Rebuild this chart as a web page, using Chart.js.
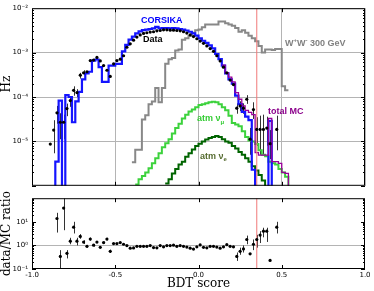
<!DOCTYPE html>
<html>
<head>
<meta charset="utf-8">
<script src="https://cdn.jsdelivr.net/npm/chart.js@4.4.0/dist/chart.umd.min.js"></script>
<style>
    html, body { margin: 0; padding: 0; background: #fff; }
    #wrap { position: relative; width: 374px; height: 291px; }
    #top { position: absolute; left: 0; top: 0; }
    #bottom { position: absolute; left: 0; top: 190px; }
</style>
</head>
<body>
<div id="wrap">
    <canvas id="top" width="374" height="194"></canvas>
    <canvas id="bottom" width="374" height="101"></canvas>
</div>
<script>
    'use strict';

    // binning of all histograms (BDT score)
    var binWidth = 0.02;
    var cutValue = 0.35;
    var hzTicks = [1e-5, 1e-4, 1e-3, 1e-2];
    var ratioTicks = [0.1, 1, 10];

    // histograms: value of each bin, first bin starts at *Start
    var corsikaStart = -0.88;
    var corsika = [0, 3.5e-6, 8.3e-5, 0, 1.1e-4, 1.0e-4, 2.7e-5, 8.0e-5, 1.3e-4, 2.5e-4,
        3.4e-4, 3.7e-4, 6.6e-4, 7.0e-4, 4.7e-4, 2.2e-4, 2.2e-4, 5.1e-4, 5.1e-4, 5.6e-4,
        5.6e-4, 1.07e-3, 1.5e-3, 1.95e-3, 2.3e-3, 2.7e-3, 3.0e-3, 3.2e-3, 3.3e-3, 3.4e-3,
        3.5e-3, 3.8e-3, 3.5e-3, 3.55e-3, 3.55e-3, 3.5e-3, 3.55e-3, 3.5e-3, 3.4e-3, 3.3e-3,
        3.15e-3, 2.95e-3, 2.7e-3, 2.4e-3, 2.1e-3, 1.85e-3, 1.65e-3, 1.45e-3, 1.25e-3, 9.3e-4,
        7.1e-4, 5.1e-4, 3.4e-4, 2.5e-4, 2.0e-4, 1.07e-4, 6.9e-5, 4.6e-5, 3.6e-5, 3.0e-5,
        2.3e-6, 0, 0, 0, 0, 2.9e-5, 0];

    var wwStart = -0.40;
    var ww = [3.4e-6, 6.5e-6, 6.5e-6, 3.1e-5, 3.9e-5, 6.9e-5, 7.9e-5, 1.6e-4, 7.6e-5, 1.6e-4,
        5.6e-4, 7.1e-4, 7.6e-4, 1.12e-3, 1.17e-3, 1.95e-3, 2.1e-3, 2.4e-3, 2.8e-3, 3.2e-3,
        3.3e-3, 3.7e-3, 4.3e-3, 4.3e-3, 4.3e-3, 4.3e-3, 5.0e-3, 5.0e-3, 4.6e-3, 4.3e-3,
        4.0e-3, 3.6e-3, 2.95e-3, 3.2e-3, 2.8e-3, 2.4e-3, 2.1e-3, 1.8e-3, 1.4e-3, 1.0e-3,
        1.17e-3, 1.17e-3, 1.15e-3, 1.2e-3, 1.2e-3, 1.74e-4, 1.41e-4];

    var numuStart = -0.38;
    var numu = [1.07e-6, 1.41e-6, 1.66e-6, 2.0e-6, 2.5e-6, 3.2e-6, 4.2e-6, 5.4e-6, 7.4e-6, 9.1e-6,
        1.12e-5, 1.51e-5, 2.0e-5, 2.5e-5, 3.3e-5, 4.0e-5, 4.7e-5, 5.2e-5, 5.9e-5, 6.6e-5,
        6.9e-5, 7.2e-5, 7.6e-5, 7.8e-5, 7.6e-5, 6.9e-5, 5.9e-5, 5.0e-5, 3.8e-5, 2.6e-5,
        2.4e-5, 2.2e-5, 1.7e-5, 1.26e-5, 1.05e-5, 1.0e-5, 8.7e-6, 6.3e-6, 5.0e-6, 4.6e-6,
        3.5e-6, 3.2e-6, 3.0e-6, 2.4e-6, 2.0e-6, 1.6e-6, 0];

    var nueStart = -0.20;
    var nue = [1.12e-6, 1.41e-6, 1.9e-6, 2.4e-6, 3.0e-6, 3.5e-6, 4.5e-6, 5.4e-6, 6.6e-6, 7.9e-6,
        8.9e-6, 1.0e-5, 1.1e-5, 1.2e-5, 1.26e-5, 1.32e-5, 1.26e-5, 1.12e-5, 1.0e-5, 9.3e-6,
        7.9e-6, 6.9e-6, 5.8e-6, 5.0e-6, 4.2e-6, 3.5e-6, 2.75e-6, 2.2e-6, 1.74e-6, 1.32e-6, 0];

    var totalStart = 0.14;
    var totalMC = [5.2e-4, 3.5e-4, 2.8e-4, 2.2e-4, 1.26e-4, 8.9e-5, 6.3e-5, 5.0e-5, 4.5e-5, 4.0e-5,
        5.6e-6, 4.9e-6, 4.9e-6, 4.9e-6, 3.3e-5, 3.5e-6, 3.5e-6, 3.2e-6, 2.0e-6, 1.9e-6, 0];

    // data points at bin centres
    var dataStart = -0.89;
    var dataRate = [8.7e-6, 1.8e-5, 4.4e-5, 2.7e-5, 2.7e-5, 5.5e-5, 8.3e-5, 1.41e-4, 1.26e-4, 3.1e-4,
        3.5e-4, 3.7e-4, 6.6e-4, 6.8e-4, 7.8e-4, 6.5e-4, 5.1e-4, 4.0e-4, 2.9e-4, 5.6e-4,
        6.6e-4, 7.1e-4, 8.5e-4, 1.32e-3, 1.58e-3, 1.9e-3, 2.24e-3, 2.5e-3, 2.7e-3, 2.8e-3,
        2.9e-3, 2.95e-3, 3.1e-3, 3.15e-3, 3.25e-3, 3.25e-3, 3.2e-3, 3.2e-3, 3.15e-3, 3.1e-3,
        2.95e-3, 2.75e-3, 2.5e-3, 2.3e-3, 2.05e-3, 1.82e-3, 1.62e-3, 1.41e-3, 1.23e-3, 1.07e-3,
        8.5e-4, 6.5e-4, 4.7e-4, 3.5e-4, 2.4e-4, 1.9e-4, 5.6e-5, 6.3e-5, 5.6e-5, 8.9e-5,
        1.12e-5, 5.2e-5, 1.86e-5, 1.86e-5, 1.86e-5, 2.0e-5, 8.9e-6, null, 1.86e-5];
    // [bin centre, low, high]
    var dataErrors = [[-0.87, 5.4e-6, 3.0e-5], [-0.85, 2.5e-5, 6.3e-5], [-0.83, 1.12e-5, 4.3e-5],
        [-0.81, 1.12e-5, 4.0e-5], [-0.79, 3.7e-5, 7.1e-5], [-0.77, 6.0e-5, 1.05e-4],
        [-0.75, 1.07e-4, 1.74e-4], [-0.73, 1.0e-4, 1.5e-4], [-0.71, 2.6e-4, 3.5e-4],
        [-0.69, 3.1e-4, 4.0e-4], [0.23, 4.2e-5, 7.2e-5], [0.25, 4.8e-5, 8.0e-5],
        [0.27, 4.2e-5, 7.2e-5], [0.29, 7.0e-5, 1.1e-4], [0.31, 5e-6, 2e-5],
        [0.33, 3.2e-5, 7.6e-5], [0.35, 7.9e-6, 3.5e-5], [0.37, 5.0e-6, 3.8e-5],
        [0.39, 5.0e-6, 4.0e-5], [0.41, 8e-6, 3.6e-5], [0.43, 4e-6, 1.8e-5], [0.47, 6.3e-6, 3.8e-5]];

    var ratioStart = -0.85;
    var ratio = [13.8, 0.34, 38, 0.46, 1.51, 5.9, 1.51, 2.4, 1.38, 0.91,
        1.86, 1.02, 1.38, 0.83, 1.32, 1.86, 0.56, 1.2, 1.2, 1.32,
        1.12, 0.98, 0.76, 0.78, 0.91, 0.91, 0.91, 0.91, 0.98, 0.81,
        0.79, 0.98, 0.87, 0.98, 0.98, 1.02, 0.91, 0.98, 0.91, 0.85,
        0.76, 0.7, 0.87, 1.05, 0.83, 0.79, 0.91, 0.91, 0.85, 0.76,
        0.87, 1.07, 0.91, 0.87, 0.34, 0.56, 0.71, 1.78, 0.44, 1.12,
        1.78, 2.75, 4.0, 4.0, 0.23, null, 5.9];
    var ratioErrors = [[-0.85, 3.5, 24], [-0.83, 0.063, 0.63], [-0.81, 4.4, 100], [-0.79, 0.28, 0.63],
        [-0.77, 1.12, 2.1], [-0.75, 3.2, 10], [-0.73, 1.0, 2.1], [-0.71, 1.9, 3.0],
        [-0.69, 1.15, 1.66], [-0.67, 0.8, 1.05], [-0.65, 1.6, 2.15], [-0.63, 0.9, 1.15],
        [-0.61, 1.25, 1.5], [-0.57, 1.2, 1.45], [-0.55, 1.65, 2.1], [-0.53, 0.48, 0.66],
        [0.23, 0.22, 0.5], [0.25, 0.4, 0.8], [0.27, 0.5, 1.0], [0.29, 1.12, 2.6],
        [0.33, 0.63, 1.78], [0.35, 0.8, 2.8], [0.37, 1.26, 4.0], [0.39, 2.2, 5.6],
        [0.41, 1.4, 5.6], [0.47, 3.2, 10]];

    // empty bins are pushed below the log axis so the step falls out of the frame
    function histPoints(start, values) {
        var pts = values.map(function (v, i) {
            return { x: start + i * binWidth, y: v > 0 ? v : 1e-9 };
        });
        pts.push({ x: start + values.length * binWidth, y: pts[pts.length - 1].y });
        return pts;
    }

    function centrePoints(start, values) {
        return values.map(function (v, i) {
            return { x: start + i * binWidth, y: v };
        });
    }

    function histSet(label, start, values, color, width) {
        return {
            label: label,
            data: histPoints(start, values),
            borderColor: color,
            borderWidth: width,
            stepped: 'before',
            pointRadius: 0,
            fill: false
        };
    }

    var supChars = { '-': '\u207B', '0': '\u2070', '1': '\u00B9', '2': '\u00B2', '3': '\u00B3',
        '4': '\u2074', '5': '\u2075', '6': '\u2076', '7': '\u2077', '8': '\u2078', '9': '\u2079' };

    function powerLabel(value) {
        var exp = String(Math.round(Math.log10(value)));
        return '10' + exp.split('').map(function (c) { return supChars[c]; }).join('');
    }

    var tickFont = { family: 'DejaVu Sans', size: 7 };
    var titleFont = { family: 'DejaVu Serif', size: 12 };
    var gridGray = '#b4b4b4';

    // black box round the plot area with small inward ticks
    var frame = {
        id: 'frame',
        afterDraw: function (chart) {
            var a = chart.chartArea, ctx = chart.ctx;
            var xs = chart.scales.x, ys = chart.scales.y;
            ctx.save();
            ctx.strokeStyle = '#000';
            ctx.lineWidth = 1;
            ctx.strokeRect(a.left + 0.5, a.top + 0.5, a.right - a.left - 1, a.bottom - a.top - 1);
            ctx.beginPath();
            [-0.5, 0, 0.5].forEach(function (v) {
                var px = Math.round(xs.getPixelForValue(v)) + 0.5;
                ctx.moveTo(px, a.bottom); ctx.lineTo(px, a.bottom - 4);
                ctx.moveTo(px, a.top); ctx.lineTo(px, a.top + 4);
            });
            var lo = Math.round(Math.log10(ys.min)), hi = Math.round(Math.log10(ys.max));
            for (var e = lo; e < hi; e++) {
                for (var m = 1; m < 10; m++) {
                    var v = m * Math.pow(10, e);
                    var py = Math.round(ys.getPixelForValue(v)) + 0.5;
                    var len = m === 1 ? 4 : 2;
                    ctx.moveTo(a.left, py); ctx.lineTo(a.left + len, py);
                    ctx.moveTo(a.right, py); ctx.lineTo(a.right - len, py);
                }
            }
            ctx.stroke();
            ctx.restore();
        }
    };

    var errorBars = {
        id: 'errorBars',
        beforeDatasetsDraw: function (chart) {
            var a = chart.chartArea, ctx = chart.ctx;
            var xs = chart.scales.x, ys = chart.scales.y;
            ctx.save();
            ctx.beginPath();
            ctx.rect(a.left, a.top, a.right - a.left, a.bottom - a.top);
            ctx.clip();
            chart.data.datasets.forEach(function (ds) {
                if (!ds.errors) return;
                ctx.strokeStyle = '#333';
                ctx.lineWidth = 1;
                ds.errors.forEach(function (e) {
                    var px = Math.round(xs.getPixelForValue(e[0])) + 0.5;
                    ctx.beginPath();
                    ctx.moveTo(px, ys.getPixelForValue(e[1]));
                    ctx.lineTo(px, ys.getPixelForValue(e[2]));
                    ctx.stroke();
                });
            });
            ctx.restore();
        }
    };

    // text labels placed in data coordinates
    var topLabels = [
        { x: -0.345, y: 5.2e-3, color: '#0000ff', parts: [['CORSIKA']] },
        { x: -0.333, y: 1.95e-3, color: '#000000', parts: [['Data']] },
        { x: 0.52, y: 1.62e-3, color: '#808080', parts: [['W'], ['+', 'sup'], ['W'], ['-', 'sup'], [' 300 GeV']] },
        { x: -0.009, y: 3.2e-5, color: '#33cc33', parts: [['atm \u03bd'], ['\u03bc', 'sub']] },
        { x: 0.009, y: 4.5e-6, color: '#556b2f', parts: [['atm \u03bd'], ['e', 'sub']] },
        { x: 0.417, y: 4.6e-5, color: '#8b008b', parts: [['total MC']] }
    ];
    var hzTitleAt = 1.95e-4;

    var annotations = {
        id: 'annotations',
        afterDatasetsDraw: function (chart) {
            var ctx = chart.ctx, xs = chart.scales.x, ys = chart.scales.y;
            ctx.save();
            ctx.textBaseline = 'middle';
            ctx.textAlign = 'left';
            topLabels.forEach(function (lab) {
                var px = xs.getPixelForValue(lab.x), py = ys.getPixelForValue(lab.y);
                ctx.fillStyle = lab.color;
                lab.parts.forEach(function (p) {
                    var dy = 0;
                    if (p[1] === 'sup') { ctx.font = 'bold 6px "Liberation Sans"'; dy = -3; }
                    else if (p[1] === 'sub') { ctx.font = 'bold 6px "Liberation Sans"'; dy = 3; }
                    else { ctx.font = 'bold 9px "Liberation Sans"'; }
                    ctx.fillText(p[0], px, py + dy);
                    px += ctx.measureText(p[0]).width;
                });
            });
            // y axis title of the upper panel
            ctx.translate(7, ys.getPixelForValue(hzTitleAt));
            ctx.rotate(-Math.PI / 2);
            ctx.textAlign = 'center';
            ctx.fillStyle = '#000';
            ctx.font = '12px "DejaVu Serif"';
            ctx.fillText('Hz', 0, 0);
            ctx.restore();
        }
    };

    function cutSet(yMin, yMax) {
        return {
            label: 'cut',
            data: [{ x: cutValue, y: yMin }, { x: cutValue, y: yMax }],
            borderColor: '#f07878',
            borderWidth: 1,
            pointRadius: 0
        };
    }

    function pointSet(label, start, values, errors) {
        return {
            label: label,
            data: centrePoints(start, values),
            showLine: false,
            pointRadius: 1.6,
            pointBorderWidth: 0,
            pointBackgroundColor: '#000',
            borderColor: '#000',
            errors: errors
        };
    }

    new Chart(document.getElementById('top'), {
        type: 'line',
        data: {
            datasets: [
                pointSet('Data', dataStart, dataRate, dataErrors),
                cutSet(1e-6, 1e-2),
                histSet('total MC', totalStart, totalMC, '#990099', 1.3),
                histSet('CORSIKA', corsikaStart, corsika, '#1414ff', 2.2),
                histSet('atm nu_mu', numuStart, numu, '#3cd23c', 2),
                histSet('atm nu_e', nueStart, nue, '#006400', 2),
                histSet('WW 300 GeV', wwStart, ww, '#888888', 2)
            ]
        },
        options: {
            responsive: false,
            animation: false,
            devicePixelRatio: 1,
            layout: { padding: { top: 7, right: 9, left: 0, bottom: 0 } },
            plugins: { legend: { display: false }, tooltip: { enabled: false } },
            scales: {
                x: {
                    type: 'linear', min: -1, max: 1,
                    ticks: { display: false, stepSize: 0.5 },
                    grid: { color: gridGray, drawTicks: false },
                    border: { display: false },
                    afterFit: function (s) { s.height = 2; }
                },
                y: {
                    type: 'logarithmic', min: 1e-6, max: 1e-2,
                    afterBuildTicks: function (s) {
                        s.ticks = hzTicks.map(function (v) { return { value: v }; });
                    },
                    ticks: { callback: powerLabel, font: tickFont, color: '#000', padding: 4 },
                    grid: { color: gridGray, drawTicks: false },
                    border: { display: false },
                    afterFit: function (s) { s.width = 32; }
                }
            }
        },
        plugins: [frame, errorBars, annotations]
    });

    new Chart(document.getElementById('bottom'), {
        type: 'line',
        data: {
            datasets: [
                pointSet('data/MC', ratioStart, ratio, ratioErrors),
                cutSet(0.1, 100)
            ]
        },
        options: {
            responsive: false,
            animation: false,
            devicePixelRatio: 1,
            layout: { padding: { top: 2, right: 9, left: 0, bottom: 0 } },
            plugins: { legend: { display: false }, tooltip: { enabled: false } },
            scales: {
                x: {
                    type: 'linear', min: -1, max: 1,
                    ticks: {
                        stepSize: 0.5, font: tickFont, color: '#000', padding: 2, maxRotation: 0,
                        callback: function (v) { return v.toFixed(1); }
                    },
                    grid: { drawOnChartArea: false, drawTicks: false },
                    border: { display: false },
                    title: { display: true, text: 'BDT score', font: titleFont, color: '#000', padding: 0 },
                    afterFit: function (s) { s.height = 22; }
                },
                y: {
                    type: 'logarithmic', min: 0.1, max: 100,
                    afterBuildTicks: function (s) {
                        s.ticks = ratioTicks.map(function (v) { return { value: v }; });
                    },
                    ticks: { callback: powerLabel, font: tickFont, color: '#000', padding: 4 },
                    grid: {
                        drawTicks: false,
                        color: function (c) { return c.tick && c.tick.value === 1 ? gridGray : 'rgba(0,0,0,0)'; }
                    },
                    border: { display: false },
                    title: { display: true, text: 'data/MC ratio', font: titleFont, color: '#000', padding: 0 },
                    afterFit: function (s) { s.width = 32; }
                }
            }
        },
        plugins: [frame, errorBars]
    });
</script>
</body>
</html>
